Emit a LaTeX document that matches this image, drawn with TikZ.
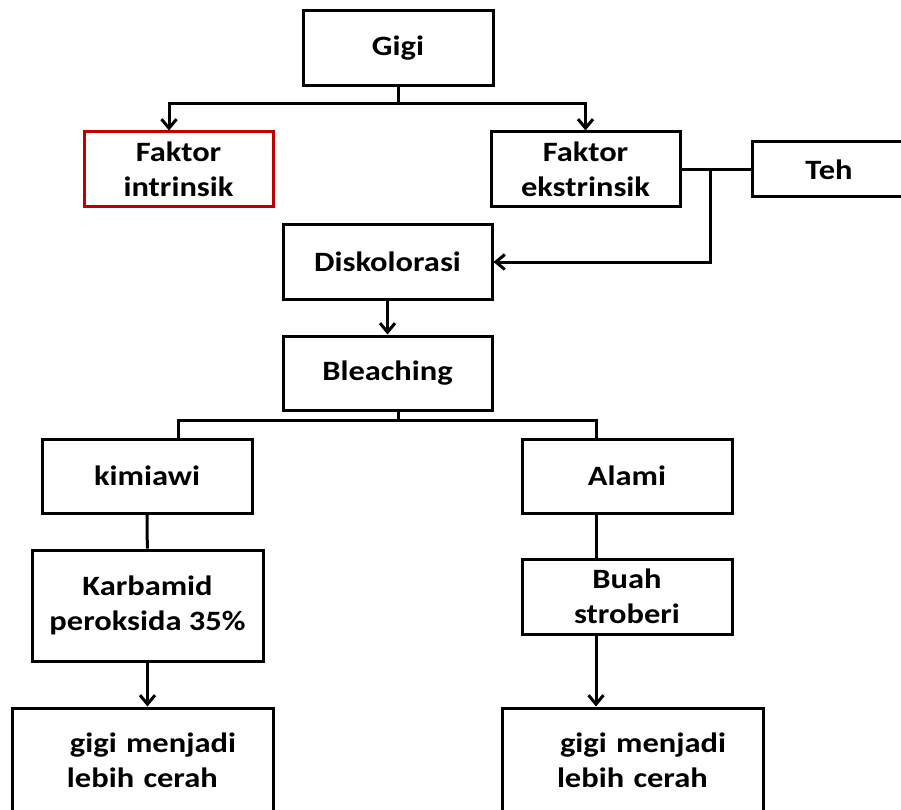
\documentclass[tikz,border=0pt]{standalone}
\usepackage{fontspec}
\setmainfont[FakeStretch=1.16]{Carlito}
\usetikzlibrary{arrows.meta}
\definecolor{boxred}{HTML}{C00000}
\begin{document}
\begin{tikzpicture}[x=1pt,y=-1pt,
  box/.style={draw=black, line width=3pt, font=\fontsize{28}{35}\selectfont\bfseries, align=center, inner sep=0pt},
  redbox/.style={box, draw=boxred},
  leftbox/.style={box, align=left, text width=261pt},
  conn/.style={line width=3pt},
  arr/.style={conn, -{Straight Barb[length=9pt,width=15pt,line width=3pt]}}
]
\useasboundingbox (0,0) rectangle (901,810);

\node[box, minimum width=190, minimum height=75] (gigi) at (398,48.5) {Gigi};
\node[redbox, minimum width=189, minimum height=75] (intr) at (178.5,169.5) {Faktor\\intrinsik};
\node[box, minimum width=189, minimum height=75] (ekstr) at (585.5,169.5) {Faktor\\ekstrinsik};
\node[box, minimum width=154, minimum height=55] (teh) at (829,169.5) {Teh};
\node[box, minimum width=209, minimum height=74] (disk) at (387.5,262) {Diskolorasi};
\node[box, minimum width=209, minimum height=74] (bleach) at (387.5,373) {Bleaching};
\node[box, minimum width=210, minimum height=74] (kim) at (147,476) {kimiawi};
\node[box, minimum width=210, minimum height=74] (alami) at (627,476) {Alami};
\node[box, minimum width=231, minimum height=111] (karb) at (147.5,605.5) {Karbamid\\peroksida 35\%};
\node[box, minimum width=210, minimum height=75] (buah) at (627,596.5) {Buah\\stroberi};
\node[leftbox, minimum height=104] (fin1) at (142.5,760) {\hspace*{58pt}gigi menjadi\\\hspace*{55pt}lebih cerah};
\node[leftbox, minimum height=104] (fin2) at (632.5,760) {\hspace*{58pt}gigi menjadi\\\hspace*{55pt}lebih cerah};

\coordinate (gj) at (398,104);
\draw[conn] (gigi.south) -- (gj);
\draw[arr] (gj) -| ([xshift=-9.5pt]intr.north);
\draw[arr] (gj) -| (ekstr.north);

\draw[conn] (ekstr.east) -- (teh.west);
\coordinate (tj) at (710,169.5);
\draw[arr] (tj) |- (disk.east);

\draw[arr] (disk) -- (bleach);

\coordinate (bj) at (398,420);
\draw[conn] (bleach.south -| bj) -- (bj);
\draw[conn] ([xshift=31pt]kim.north) |- (bj) -| ([xshift=-31pt]alami.north);

\draw[conn] (kim) -- (karb);
\draw[arr] (karb.south) -- (karb.south |- fin1.north);
\draw[conn] ([xshift=-31pt]alami.south) -- ([xshift=-31pt]alami.south |- buah.north);
\draw[arr] ([xshift=-31pt]buah.south) -- ([xshift=-31pt]buah.south |- fin2.north);
\end{tikzpicture}
\end{document}
